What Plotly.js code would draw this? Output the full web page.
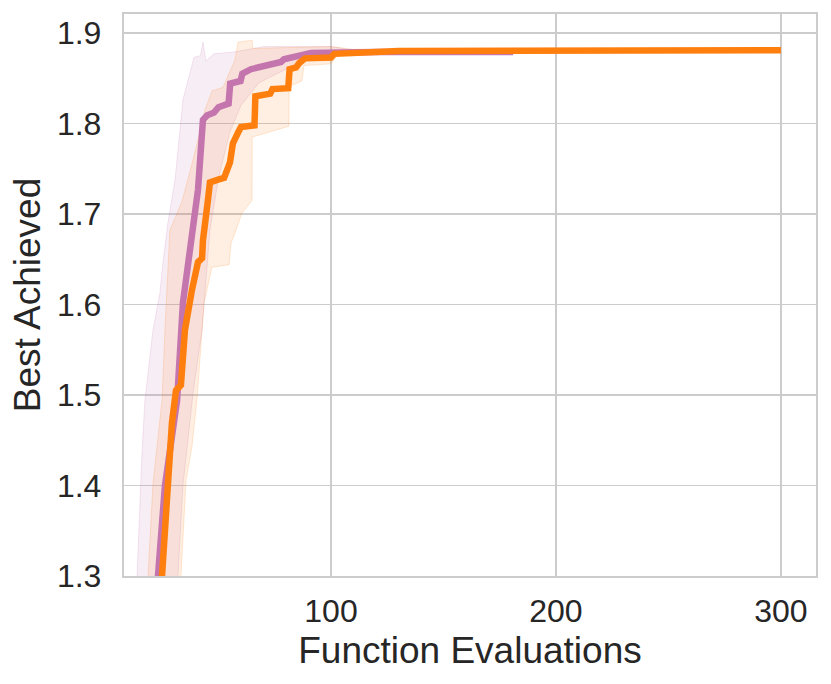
<!DOCTYPE html>
<html>
<head>
<meta charset="utf-8">
<script src="https://cdn.plot.ly/plotly-3.0.1.min.js"></script>
<style>html,body{margin:0;padding:0;background:#fff;}#chart{width:831px;height:684px;}</style>
</head>
<body>
<div id="chart"></div>
<script>
// Mean curves (function evaluations, best achieved)
const purpleX = [20, 23.1, 26.2, 31.6, 34.2, 38.7, 40.9, 43.1, 45, 48, 50, 54.5, 55.2, 59.8, 60.6, 64.4, 70, 77.8, 79.1, 88, 91.1, 120, 181];
const purpleY = [1.24, 1.30, 1.40, 1.494, 1.602, 1.682, 1.727, 1.804, 1.809, 1.812, 1.818, 1.822, 1.844, 1.847, 1.855, 1.860, 1.864, 1.868, 1.871, 1.875, 1.878, 1.879, 1.879];

const orangeX = [22, 24.9, 29.3, 31.1, 33.3, 35.1, 38.2, 40.9, 42.7, 43.1, 45.3, 46.2, 49.8, 52.5, 55.1, 56.4, 58.7, 60, 66, 66.4, 73, 74, 81, 81.6, 84.5, 86, 88.5, 100, 101.5, 130, 300];
const orangeY = [1.24, 1.30, 1.469, 1.505, 1.511, 1.572, 1.616, 1.647, 1.651, 1.671, 1.715, 1.735, 1.738, 1.740, 1.757, 1.778, 1.790, 1.796, 1.798, 1.830, 1.833, 1.838, 1.839, 1.860, 1.862, 1.867, 1.872, 1.873, 1.877, 1.880, 1.881];

// Uncertainty bands
const purpleUpX = [10, 13.8, 16, 17.3, 20.9, 24, 25.3, 27.5, 30.7, 34.2, 39.1, 42, 43.1, 44.4, 48, 56.9, 70.2, 100, 110, 181];
const purpleUpY = [1.25, 1.30, 1.436, 1.494, 1.572, 1.613, 1.646, 1.690, 1.738, 1.826, 1.873, 1.875, 1.890, 1.869, 1.877, 1.879, 1.885, 1.885, 1.881, 1.880];
const purpleLoX = [30, 32, 34.2, 38.7, 42.7, 46.2, 50, 55, 60, 68, 80, 90, 100, 120, 181];
const purpleLoY = [1.24, 1.30, 1.40, 1.502, 1.572, 1.682, 1.74, 1.79, 1.82, 1.845, 1.86, 1.87, 1.875, 1.878, 1.879];

const orangeUpX = [16, 18.7, 20.9, 24.9, 26.2, 27.6, 28.4, 33.8, 38.7, 44, 47.1, 52, 57.3, 58.7, 64.9, 65.3, 100, 110, 300];
const orangeUpY = [1.24, 1.30, 1.403, 1.494, 1.572, 1.646, 1.682, 1.714, 1.760, 1.815, 1.836, 1.840, 1.870, 1.890, 1.892, 1.883, 1.885, 1.882, 1.881];
const orangeLoX = [31, 33.3, 35.6, 38.2, 40.4, 43.6, 47.1, 54.7, 55.6, 57.8, 60.4, 64.9, 65, 81.3, 81.4, 87.1, 88, 100, 104, 300];
const orangeLoY = [1.24, 1.30, 1.406, 1.443, 1.494, 1.602, 1.641, 1.644, 1.668, 1.682, 1.701, 1.715, 1.785, 1.797, 1.841, 1.847, 1.864, 1.866, 1.879, 1.880];

const yTicks = [1.3, 1.4, 1.5, 1.6, 1.7, 1.8, 1.9];
const xTicks = [100, 200, 300];

const PURPLE = '#c475ae';
const ORANGE = '#ff7f0e';

function band(upX, upY, loX, loY, fill, edge) {
  return {
    x: upX.concat(loX.slice().reverse()),
    y: upY.concat(loY.slice().reverse()),
    type: 'scatter', mode: 'lines', fill: 'toself',
    fillcolor: fill, line: {color: edge, width: 1}, hoverinfo: 'skip', showlegend: false
  };
}

const traces = [
  band(purpleUpX, purpleUpY, purpleLoX, purpleLoY, 'rgba(196,117,174,0.13)', 'rgba(196,117,174,0.18)'),
  band(orangeUpX, orangeUpY, orangeLoX, orangeLoY, 'rgba(255,127,14,0.12)', 'rgba(255,127,14,0.18)'),
  {x: purpleX, y: purpleY, type: 'scatter', mode: 'lines', line: {color: PURPLE, width: 6.5}, showlegend: false},
  {x: orangeX, y: orangeY, type: 'scatter', mode: 'lines', line: {color: ORANGE, width: 6.5}, showlegend: false}
];

const font = {family: '"Liberation Sans", Arial, sans-serif', color: '#262626'};
const layout = {
  width: 831, height: 684,
  margin: {l: 124, r: 15, t: 14, b: 108},
  paper_bgcolor: '#fff', plot_bgcolor: '#fff',
  font: font,
  showlegend: false,
  xaxis: {
    range: [8, 315.6], tickvals: xTicks, ticktext: xTicks.map(String),
    showgrid: true, gridcolor: '#cccccc', gridwidth: 1.8,
    showline: true, linecolor: '#cccccc', linewidth: 2.2, mirror: true,
    zeroline: false, ticks: '', ticklabelstandoff: 5,
    tickfont: {size: 32, family: font.family, color: '#262626'},
    title: {text: 'Function Evaluations', font: {size: 37, family: font.family, color: '#262626'}, standoff: 10}
  },
  yaxis: {
    range: [1.3, 1.921], tickvals: yTicks, ticktext: yTicks.map(v => v.toFixed(1)),
    showgrid: true, gridcolor: '#cccccc', gridwidth: 1.8,
    showline: true, linecolor: '#cccccc', linewidth: 2.2, mirror: true,
    zeroline: false, ticks: '', ticklabelstandoff: 14,
    tickfont: {size: 32, family: font.family, color: '#262626'},
    title: {text: 'Best Achieved', font: {size: 37, family: font.family, color: '#262626'}, standoff: 5}
  }
};

Plotly.newPlot('chart', traces, layout, {displayModeBar: false, staticPlot: true});
</script>
</body>
</html>
